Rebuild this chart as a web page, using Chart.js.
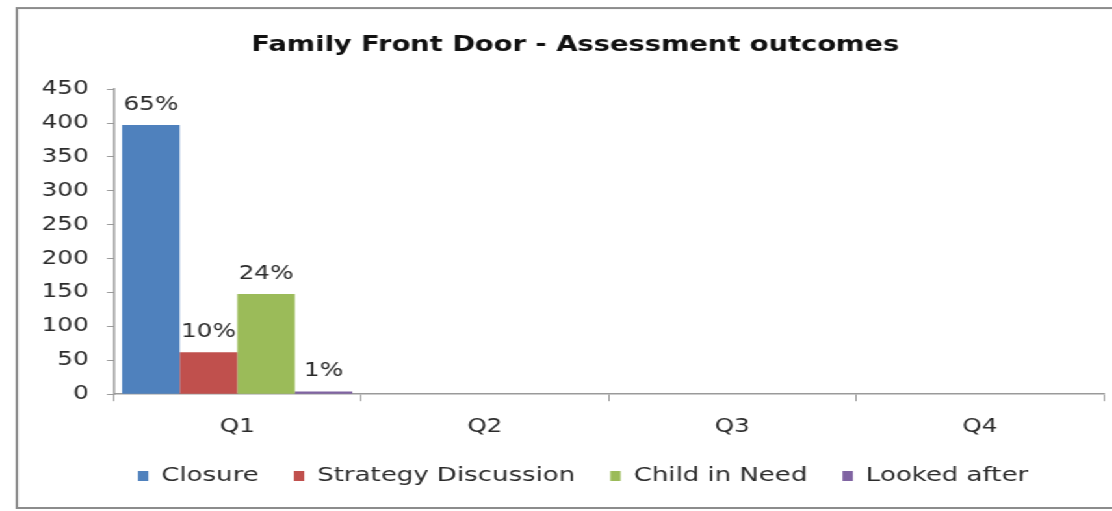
<!DOCTYPE html>
<html>
<head>
<meta charset="utf-8">
<script src="https://cdn.jsdelivr.net/npm/chart.js@4.4.1/dist/chart.umd.min.js"></script>
<style>
  html, body { margin: 0; padding: 0; background: #fff; overflow: hidden; }
  /* the original picture is stretched sideways, so draw narrow and widen */
  #stretch {
    position: absolute; left: 0; top: 0;
    width: 855px; height: 511px;
    transform: scaleX(1.3); transform-origin: 0 0;
  }
  #box {
    position: absolute; left: 12px; top: 7px;
    width: 920px; height: 502px;
    border: 2px solid #8c8c8c; box-sizing: border-box;
  }
  #wrap { position: absolute; left: 0; top: 0; width: 903px; height: 498px; }
</style>
</head>
<body>
<div id="stretch"><div id="box"><div id="wrap"><canvas id="outcomeChart"></canvas></div></div></div>
<script>
// quarters on the x axis
const quarters = ['Q1', 'Q2', 'Q3', 'Q4'];

// assessment outcome counts per quarter (only Q1 reported so far)
const closure = [397, null, null, null];
const strategyDiscussion = [62, null, null, null];
const childInNeed = [148, null, null, null];
const lookedAfter = [4, null, null, null];

const yTicks = [0, 50, 100, 150, 200, 250, 300, 350, 400, 450];

const fontFamily = '"DejaVu Sans", sans-serif';
const textColor = '#2b2b2b';

const legendGap = 27;   // horizontal space between legend items
const legendExtra = legendGap - 14;

// draws the share of each bar (out of its quarter's total) above the bar
const percentLabels = {
    id: 'percentLabels',
    afterDatasetsDraw(chart) {
        const ctx = chart.ctx;
        const sets = chart.data.datasets;
        ctx.save();
        ctx.font = '19px ' + fontFamily;
        ctx.fillStyle = textColor;
        ctx.textAlign = 'center';
        ctx.textBaseline = 'alphabetic';
        sets.forEach(function(ds, i) {
            const meta = chart.getDatasetMeta(i);
            meta.data.forEach(function(bar, j) {
                const v = ds.data[j];
                if (v == null) return;
                let total = 0;
                sets.forEach(function(s) { total += s.data[j] || 0; });
                const pct = Math.round(v / total * 100) + '%';
                ctx.fillText(pct, bar.x, bar.y - 15);
            });
        });
        ctx.restore();
    }
};

// wide gaps between legend items without making the legend taller,
// and nudge title / legend a little right like in the original
const blockTweaks = {
    id: 'blockTweaks',
    beforeInit(chart) {
        const fit = chart.legend.fit;
        chart.legend.fit = function() {
            fit.call(this);
            this.height -= legendExtra;
        };
    },
    afterLayout(chart) {
        const legend = chart.legend;
        legend.top -= legendExtra;
        legend.left += 15;
        legend.right += 15;
        const title = chart.titleBlock;
        title.left += 9;
        title.right += 9;
    }
};

const ctx = document.getElementById('outcomeChart').getContext('2d');
const outcomeChart = new Chart(ctx, {
    type: 'bar',
    data: {
        labels: quarters,
        datasets: [
            { label: 'Closure', data: closure, backgroundColor: '#4F81BD' },
            { label: 'Strategy Discussion', data: strategyDiscussion, backgroundColor: '#C0504D' },
            { label: 'Child in Need', data: childInNeed, backgroundColor: '#9BBB59' },
            { label: 'Looked after', data: lookedAfter, backgroundColor: '#8064A2' }
        ]
    },
    options: {
        responsive: true,
        maintainAspectRatio: false,
        animation: false,
        events: [],
        categoryPercentage: 0.93,
        barPercentage: 1.0,
        layout: { padding: { left: 4, right: 68, top: 10, bottom: 11 } },
        plugins: {
            title: {
                display: true,
                text: 'Family Front Door - Assessment outcomes',
                color: '#111',
                font: { family: fontFamily, size: 21, weight: 'bold' },
                padding: { top: 14, bottom: 31 }
            },
            legend: {
                position: 'bottom',
                labels: {
                    color: textColor,
                    font: { family: fontFamily, size: 20 },
                    boxWidth: 8,
                    boxHeight: 10,
                    padding: legendGap
                }
            },
            tooltip: { enabled: false }
        },
        scales: {
            x: {
                grid: { drawOnChartArea: false, color: '#9a9a9a', tickLength: 7 },
                border: { color: '#9a9a9a', width: 1.5 },
                ticks: { color: textColor, font: { family: fontFamily, size: 19 }, padding: 14 }
            },
            y: {
                min: 0,
                max: 450,
                afterBuildTicks(axis) {
                    axis.ticks = yTicks.map(function(v) { return { value: v }; });
                },
                grid: { drawOnChartArea: false, color: '#9a9a9a', tickLength: 5 },
                border: { color: '#9a9a9a', width: 1.5 },
                ticks: { color: textColor, font: { family: fontFamily, size: 19 }, padding: 14 }
            }
        }
    },
    plugins: [percentLabels, blockTweaks]
});
</script>
</body>
</html>
